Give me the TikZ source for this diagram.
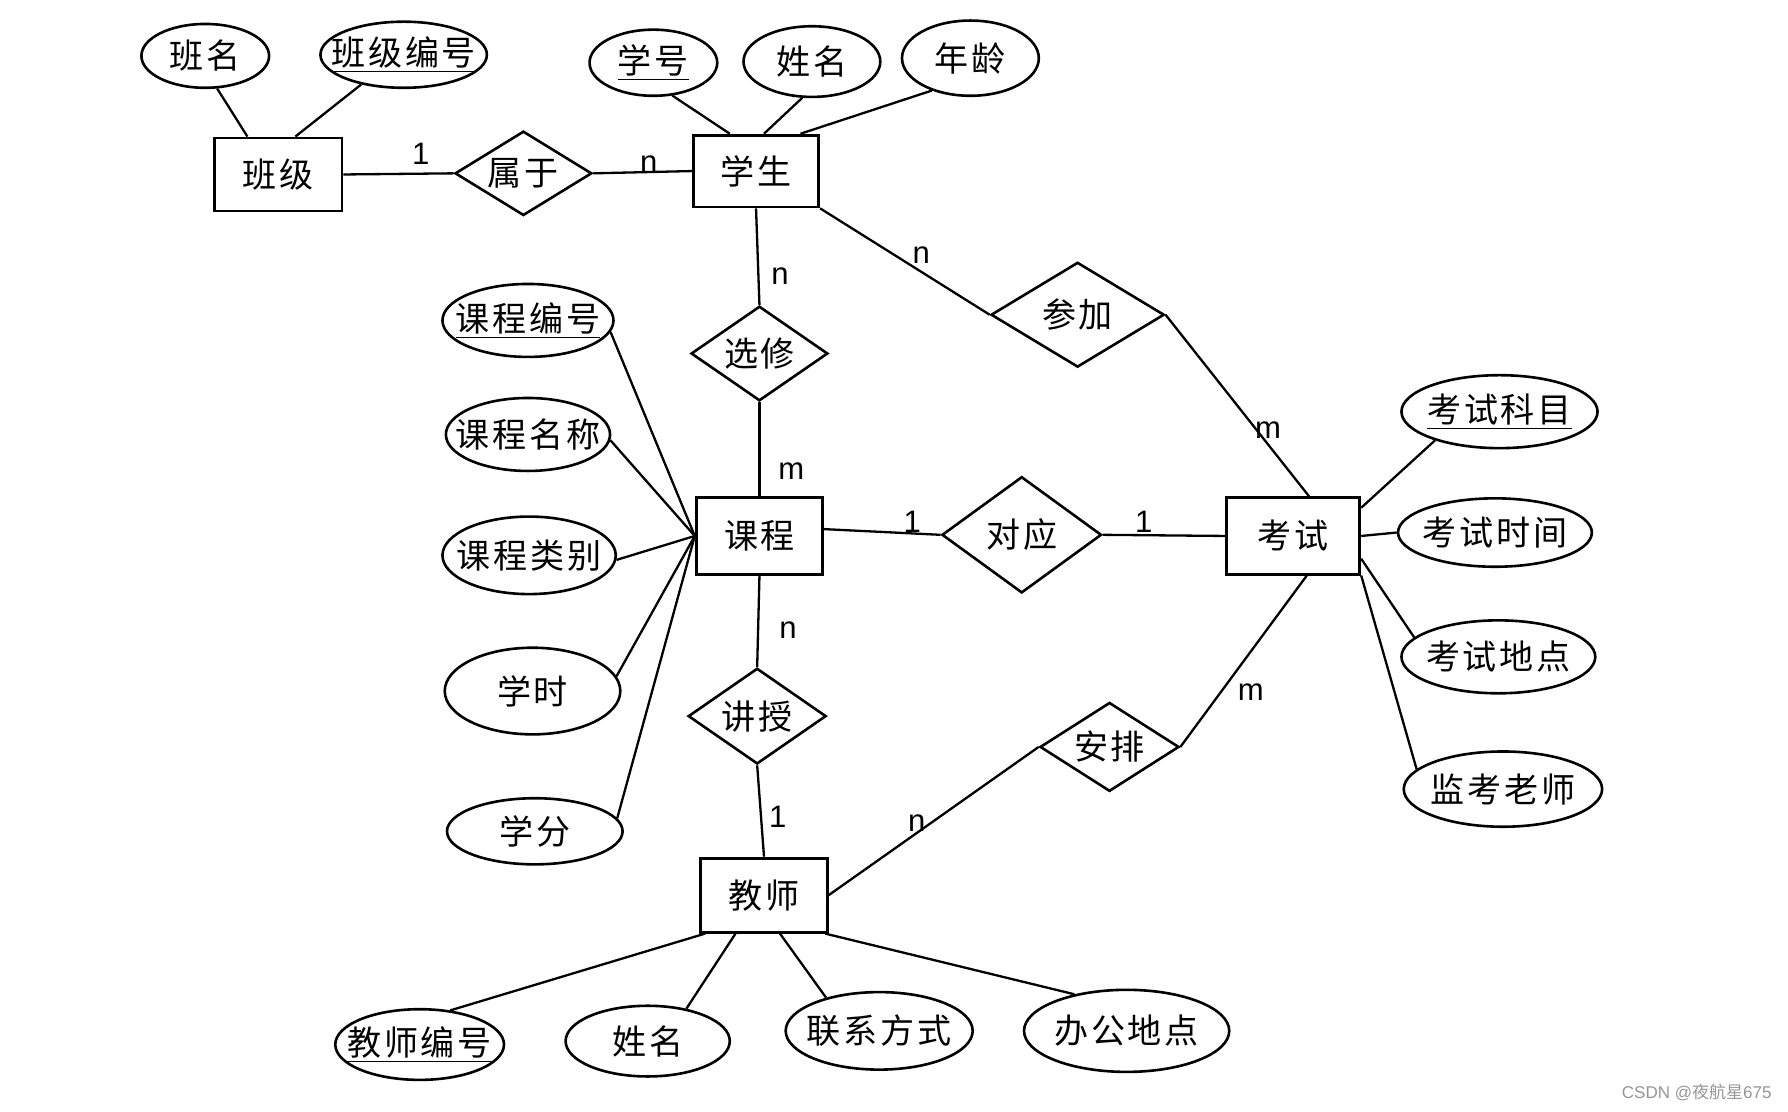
\documentclass[tikz,border=0pt]{standalone}
\usepackage{fontspec}
\usepackage{tikz}
\usetikzlibrary{shapes.geometric,calc}
\newfontfamily\cjk[LetterSpace=8]{Noto Sans CJK SC}
\newfontfamily\cjkplain{Noto Sans CJK SC}
\newfontfamily\lat{Liberation Sans}
\definecolor{wmgray}{RGB}{150,150,150}

\tikzset{
  every label/.style={font=\cjk\fontsize{17}{20}\selectfont, inner sep=0pt},
  entity/.style={draw, rectangle, line width=1.4pt, inner sep=0pt,
    font=\cjk\fontsize{17}{20}\selectfont},
  relation/.style={draw, diamond, line width=1.3pt, inner sep=0pt},
  attr/.style={draw, ellipse, line width=1.3pt, inner sep=0pt},
  card/.style={font=\lat\fontsize{15.5}{18}\selectfont, inner sep=0pt},
  link/.style={line width=1.15pt},
  wmtext/.style={font=\lat\fontsize{8.5}{10}\selectfont, text=wmgray, inner sep=0pt}
}

\begin{document}
\begin{tikzpicture}[x=0.02cm, y=-0.02cm]
  \useasboundingbox (0,0) rectangle (1568,975);

  \node[entity, minimum width=2.24cm, minimum height=1.28cm] (bj) at (244,153) {班级};
  \node[entity, minimum width=2.2cm, minimum height=1.26cm] (xs) at (663,150) {学生};
  \node[entity, minimum width=2.22cm, minimum height=1.36cm] (kc) at (666,470) {课程};
  \node[entity, minimum width=2.34cm, minimum height=1.34cm] (ks) at (1134,470) {考试};
  \node[entity, minimum width=2.22cm, minimum height=1.3cm] (js) at (670,785) {教师};

  \node[relation, minimum width=2.4cm, minimum height=1.48cm, label=center:属于] (sy) at (459,152) {};
  \node[relation, minimum width=2.4cm, minimum height=1.66cm, label=center:选修] (xx) at (666,310) {};
  \node[relation, minimum width=3.04cm, minimum height=1.84cm, label=center:参加] (cj) at (945,276) {};
  \node[relation, minimum width=2.8cm, minimum height=2.04cm, label=center:对应] (dy) at (896,469) {};
  \node[relation, minimum width=2.42cm, minimum height=1.68cm, label=center:讲授] (jsh) at (664,628) {};
  \node[relation, minimum width=2.44cm, minimum height=1.56cm, label=center:安排] (ap) at (973,655) {};

  \node[attr, minimum width=2.24cm, minimum height=1.12cm, label=center:班名] (bm) at (180,49) {};
  \node[attr, minimum width=2.92cm, minimum height=1.16cm, label=center:{\underline{班级编号}}] (bjbh) at (354,48) {};
  \node[attr, minimum width=2.24cm, minimum height=1.16cm, label=center:{\underline{学号}}] (xh) at (573,55) {};
  \node[attr, minimum width=2.4cm, minimum height=1.24cm, label=center:姓名] (xm) at (712,54) {};
  \node[attr, minimum width=2.4cm, minimum height=1.32cm, label=center:年龄] (nl) at (851,51) {};

  \node[attr, minimum width=3cm, minimum height=1.28cm, label=center:{\underline{课程编号}}] (kcbh) at (463,281) {};
  \node[attr, minimum width=2.88cm, minimum height=1.28cm, label=center:课程名称] (kcmc) at (463,381) {};
  \node[attr, minimum width=3.04cm, minimum height=1.36cm, label=center:课程类别] (kclb) at (464,487) {};
  \node[attr, minimum width=3.08cm, minimum height=1.52cm, label=center:学时] (xsh) at (467,606) {};
  \node[attr, minimum width=3.08cm, minimum height=1.16cm, label=center:学分] (xf) at (469,729) {};

  \node[attr, minimum width=3.44cm, minimum height=1.28cm, label=center:{\underline{考试科目}}] (kskm) at (1315,361) {};
  \node[attr, minimum width=3.4cm, minimum height=1.2cm, label=center:考试时间] (kssj) at (1311,467) {};
  \node[attr, minimum width=3.4cm, minimum height=1.28cm, label=center:考试地点] (ksdd) at (1314,576) {};
  \node[attr, minimum width=3.48cm, minimum height=1.32cm, label=center:监考老师] (jkls) at (1318,692) {};

  \node[attr, minimum width=2.96cm, minimum height=1.24cm, label=center:{\underline{教师编号}}] (jsbh) at (368,916) {};
  \node[attr, minimum width=2.88cm, minimum height=1.24cm, label=center:姓名] (jsxm) at (568,913) {};
  \node[attr, minimum width=3.28cm, minimum height=1.36cm, label=center:联系方式] (lxfs) at (771,904) {};
  \node[attr, minimum width=3.6cm, minimum height=1.44cm, label=center:办公地点] (bgdd) at (988,904) {};

  \draw[link] (bm.-70) -- ($(bj.north)+(-27,0)$);
  \draw[link] (bjbh.215) -- ($(bj.north)+(15,0)$);
  \draw[link] (xh.-60) -- ($(xs.north)+(-23,0)$);
  \draw[link] (xm.-105) -- ($(xs.north)+(7,0)$);
  \draw[link] (nl.220) -- ($(xs.north)+(39,0)$);

  \draw[link] (bj.east) -- (sy.west);
  \draw[link] (sy.east) -- (xs.west);
  \draw[link] (xs.south) -- (xx.north);
  \draw[link] (xx.south) -- (kc.north);
  \draw[link] (xs.south east) -- (cj.west);
  \draw[link] (cj.east) -- ($(ks.north)+(14,0)$);
  \draw[link] ($(kc.east)+(0,-6)$) -- (dy.west);
  \draw[link] (dy.east) -- (ks.west);
  \draw[link] (kc.south) -- (jsh.north);
  \draw[link] (jsh.south) -- (js.north);
  \draw[link] (js.east) -- (ap.west);
  \draw[link] (ap.east) -- ($(ks.south)+(12,0)$);

  \draw[link] (kcbh.-8) -- (kc.west);
  \draw[link] (kcmc.-4) -- (kc.west);
  \draw[link] (kclb.-3) -- (kc.west);
  \draw[link] (xsh.10) -- (kc.west);
  \draw[link] (xf.9) -- (kc.west);

  \draw[link] ($(ks.north east)+(0,10)$) -- (kskm.204);
  \draw[link] (ks.east) -- (kssj.west);
  \draw[link] ($(ks.east)+(0,20)$) -- (ksdd.167);
  \draw[link] (ks.south east) -- (jkls.167);

  \draw[link] ($(js.south west)+(5,0)$) -- (jsbh.48);
  \draw[link] ($(js.south)+(-25,0)$) -- (jsxm.40);
  \draw[link] ($(js.south)+(14,0)$) -- (lxfs.148);
  \draw[link] ($(js.south east)+(-3,0)$) -- (bgdd.145);

  \node[card] (c1) at (369,135) {1};
  \node[card] (c2) at (569,144) {n};
  \node[card] (c3) at (684,242) {n};
  \node[card] (c4) at (694,413) {m};
  \node[card] (c5) at (808,224) {n};
  \node[card] (c6) at (1112,377) {m};
  \node[card] (c7) at (800,458) {1};
  \node[card] (c8) at (1003,458) {1};
  \node[card] (c9) at (691,553) {n};
  \node[card] (c10) at (682,716) {1};
  \node[card] (c11) at (804,722) {n};
  \node[card] (c12) at (1097,607) {m};

  \node[wmtext, anchor=east] (wm) at (1554,958) {CSDN @{\cjkplain 夜航星}675};
\end{tikzpicture}
\end{document}
